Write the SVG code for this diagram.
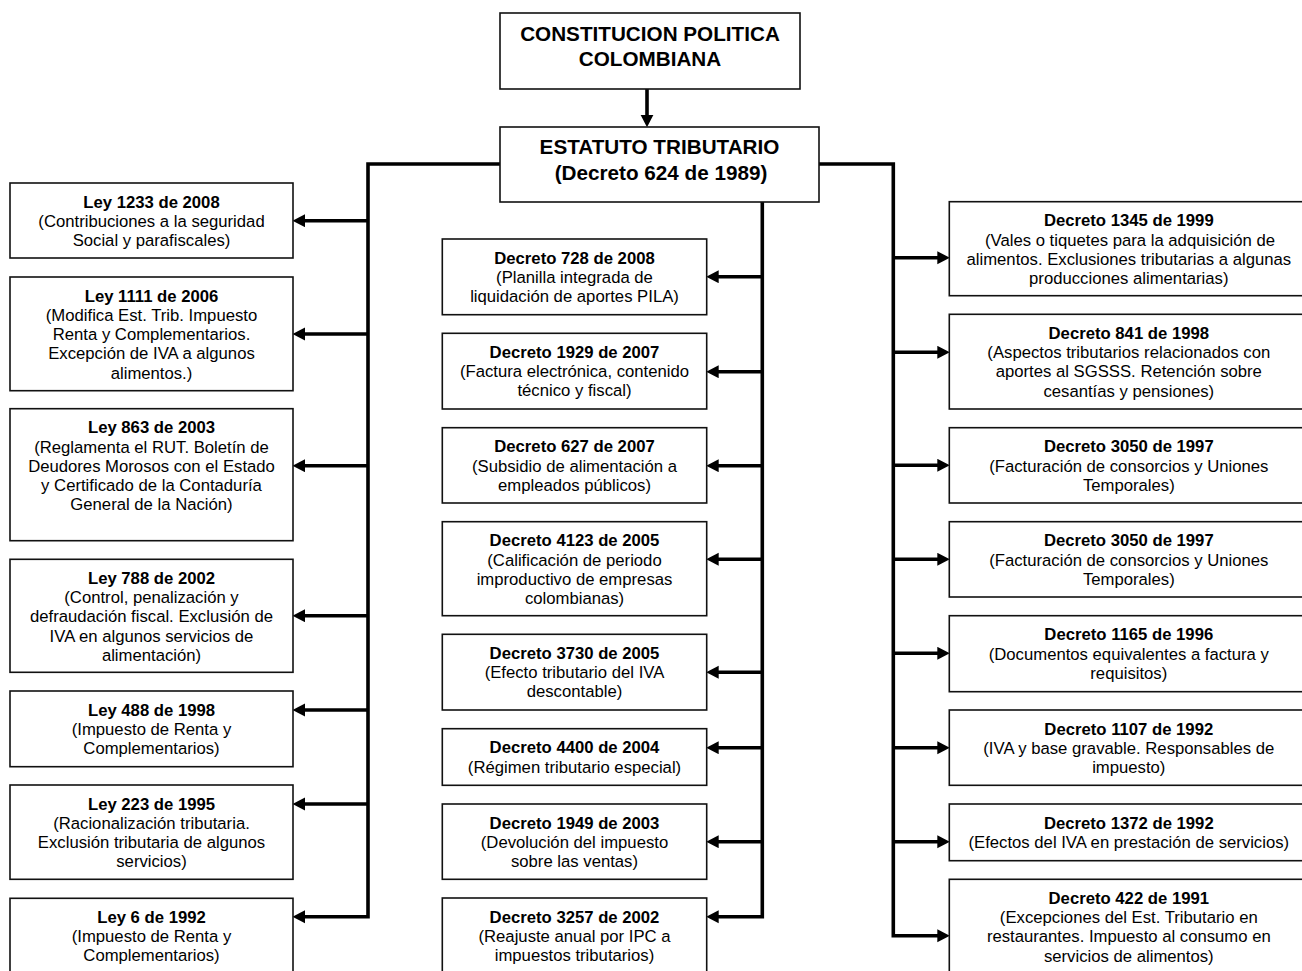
<svg xmlns="http://www.w3.org/2000/svg" width="1302" height="971" viewBox="0 0 1302 971">
<style>
.box{fill:#fff;stroke:#111;stroke-width:1.6}
.t{font-family:"Liberation Sans",Arial,sans-serif;font-size:16.7px;fill:#000;text-anchor:middle}
.b{font-weight:bold}
.h{font-family:"Liberation Sans",Arial,sans-serif;font-size:20.7px;font-weight:bold;fill:#000;text-anchor:middle}
.c{fill:none;stroke:#000;stroke-width:3.6;stroke-linejoin:miter}
.a{fill:none;stroke:#000;stroke-width:3.6;marker-end:url(#ah)}
</style>
<defs>
<marker id="ah" markerUnits="userSpaceOnUse" markerWidth="14" markerHeight="14" refX="2" refY="6.5" orient="auto">
<path d="M0,0 L12.5,6.5 L0,13 z" fill="#000"/>
</marker>
</defs>
<rect width="1302" height="971" fill="#fff"/>

<g id="connectors">
<line class="a" x1="647" y1="89" x2="647" y2="116.7"/>
<path class="c" d="M500,164 H368 V916.7 H303"/>
<path class="c" d="M762.3,202 V916.7 H716.7"/>
<path class="c" d="M819,164 H893.3 V935.7 H939.3"/>
<path d="M305,910.2 L292.5,916.7 L305,923.2 z" fill="#000"/>
<path d="M718.7,910.2 L706.2,916.7 L718.7,923.2 z" fill="#000"/>
<path d="M937.3,929.2 L949.8,935.7 L937.3,942.2 z" fill="#000"/>
<line class="a" x1="368" y1="220.7" x2="303" y2="220.7"/>
<line class="a" x1="368" y1="334" x2="303" y2="334"/>
<line class="a" x1="368" y1="465.7" x2="303" y2="465.7"/>
<line class="a" x1="368" y1="615.7" x2="303" y2="615.7"/>
<line class="a" x1="368" y1="710" x2="303" y2="710"/>
<line class="a" x1="368" y1="804" x2="303" y2="804"/>
<line class="a" x1="762.3" y1="276.7" x2="716.7" y2="276.7"/>
<line class="a" x1="762.3" y1="371.7" x2="716.7" y2="371.7"/>
<line class="a" x1="762.3" y1="465.7" x2="716.7" y2="465.7"/>
<line class="a" x1="762.3" y1="559.3" x2="716.7" y2="559.3"/>
<line class="a" x1="762.3" y1="672.3" x2="716.7" y2="672.3"/>
<line class="a" x1="762.3" y1="747.7" x2="716.7" y2="747.7"/>
<line class="a" x1="762.3" y1="841.7" x2="716.7" y2="841.7"/>
<line class="a" x1="893.3" y1="257.7" x2="939.3" y2="257.7"/>
<line class="a" x1="893.3" y1="352.3" x2="939.3" y2="352.3"/>
<line class="a" x1="893.3" y1="465.3" x2="939.3" y2="465.3"/>
<line class="a" x1="893.3" y1="559.3" x2="939.3" y2="559.3"/>
<line class="a" x1="893.3" y1="653.3" x2="939.3" y2="653.3"/>
<line class="a" x1="893.3" y1="747.7" x2="939.3" y2="747.7"/>
<line class="a" x1="893.3" y1="841.7" x2="939.3" y2="841.7"/>
</g>

<g id="constitucion">
<rect class="box" x="500" y="13" width="300" height="76"/>
<text class="h" x="650" y="40.7">CONSTITUCION POLITICA</text>
<text class="h" x="650" y="66.3">COLOMBIANA</text>
</g>
<g id="estatuto">
<rect class="box" x="500" y="127" width="319" height="75"/>
<text class="h" x="659.5" y="154">ESTATUTO TRIBUTARIO</text>
<text class="h" x="661" y="179.5">(Decreto 624 de 1989)</text>
</g>

<g id="ley1233">
<rect class="box" x="10" y="183" width="283" height="75"/>
<text class="t" x="151.5" y="207.5"><tspan class="b">Ley 1233 de 2008</tspan><tspan x="151.5" dy="19.3">(Contribuciones a la seguridad</tspan><tspan x="151.5" dy="19.3">Social y parafiscales)</tspan></text>
</g>
<g id="ley1111">
<rect class="box" x="10" y="277" width="283" height="113.7"/>
<text class="t" x="151.5" y="301.5"><tspan class="b">Ley 1111 de 2006</tspan><tspan x="151.5" dy="19.3">(Modifica Est. Trib. Impuesto</tspan><tspan x="151.5" dy="19.3">Renta y Complementarios.</tspan><tspan x="151.5" dy="19.3">Excepción de IVA a algunos</tspan><tspan x="151.5" dy="19.3">alimentos.)</tspan></text>
</g>
<g id="ley863">
<rect class="box" x="10" y="408.7" width="283" height="132"/>
<text class="t" x="151.5" y="433.2"><tspan class="b">Ley 863 de 2003</tspan><tspan x="151.5" dy="19.3">(Reglamenta el RUT. Boletín de</tspan><tspan x="151.5" dy="19.3">Deudores Morosos con el Estado</tspan><tspan x="151.5" dy="19.3">y Certificado de la Contaduría</tspan><tspan x="151.5" dy="19.3">General de la Nación)</tspan></text>
</g>
<g id="ley788">
<rect class="box" x="10" y="559.3" width="283" height="113"/>
<text class="t" x="151.5" y="583.8"><tspan class="b">Ley 788 de 2002</tspan><tspan x="151.5" dy="19.3">(Control, penalización y</tspan><tspan x="151.5" dy="19.3">defraudación fiscal. Exclusión de</tspan><tspan x="151.5" dy="19.3">IVA en algunos servicios de</tspan><tspan x="151.5" dy="19.3">alimentación)</tspan></text>
</g>
<g id="ley488">
<rect class="box" x="10" y="691" width="283" height="75.7"/>
<text class="t" x="151.5" y="715.5"><tspan class="b">Ley 488 de 1998</tspan><tspan x="151.5" dy="19.3">(Impuesto de Renta y</tspan><tspan x="151.5" dy="19.3">Complementarios)</tspan></text>
</g>
<g id="ley223">
<rect class="box" x="10" y="785" width="283" height="94.3"/>
<text class="t" x="151.5" y="809.5"><tspan class="b">Ley 223 de 1995</tspan><tspan x="151.5" dy="19.3">(Racionalización tributaria.</tspan><tspan x="151.5" dy="19.3">Exclusión tributaria de algunos</tspan><tspan x="151.5" dy="19.3">servicios)</tspan></text>
</g>
<g id="ley6">
<rect class="box" x="10" y="898.3" width="283" height="85"/>
<text class="t" x="151.5" y="922.8"><tspan class="b">Ley 6 de 1992</tspan><tspan x="151.5" dy="19.3">(Impuesto de Renta y</tspan><tspan x="151.5" dy="19.3">Complementarios)</tspan></text>
</g>

<g id="dec728">
<rect class="box" x="442.3" y="239" width="264.4" height="75.7"/>
<text class="t" x="574.5" y="263.5"><tspan class="b">Decreto 728 de 2008</tspan><tspan x="574.5" dy="19.3">(Planilla integrada de</tspan><tspan x="574.5" dy="19.3">liquidación de aportes PILA)</tspan></text>
</g>
<g id="dec1929">
<rect class="box" x="442.3" y="333.3" width="264.4" height="75.7"/>
<text class="t" x="574.5" y="357.8"><tspan class="b">Decreto 1929 de 2007</tspan><tspan x="574.5" dy="19.3">(Factura electrónica, contenido</tspan><tspan x="574.5" dy="19.3">técnico y fiscal)</tspan></text>
</g>
<g id="dec627">
<rect class="box" x="442.3" y="427.7" width="264.4" height="75.3"/>
<text class="t" x="574.5" y="452.2"><tspan class="b">Decreto 627 de 2007</tspan><tspan x="574.5" dy="19.3">(Subsidio de alimentación a</tspan><tspan x="574.5" dy="19.3">empleados públicos)</tspan></text>
</g>
<g id="dec4123">
<rect class="box" x="442.3" y="521.7" width="264.4" height="94"/>
<text class="t" x="574.5" y="546.2"><tspan class="b">Decreto 4123 de 2005</tspan><tspan x="574.5" dy="19.3">(Calificación de periodo</tspan><tspan x="574.5" dy="19.3">improductivo de empresas</tspan><tspan x="574.5" dy="19.3">colombianas)</tspan></text>
</g>
<g id="dec3730">
<rect class="box" x="442.3" y="634.3" width="264.4" height="75.7"/>
<text class="t" x="574.5" y="658.8"><tspan class="b">Decreto 3730 de 2005</tspan><tspan x="574.5" dy="19.3">(Efecto tributario del IVA</tspan><tspan x="574.5" dy="19.3">descontable)</tspan></text>
</g>
<g id="dec4400">
<rect class="box" x="442.3" y="728.7" width="264.4" height="56.6"/>
<text class="t" x="574.5" y="753.2"><tspan class="b">Decreto 4400 de 2004</tspan><tspan x="574.5" dy="19.3">(Régimen tributario especial)</tspan></text>
</g>
<g id="dec1949">
<rect class="box" x="442.3" y="804" width="264.4" height="75.3"/>
<text class="t" x="574.5" y="828.5"><tspan class="b">Decreto 1949 de 2003</tspan><tspan x="574.5" dy="19.3">(Devolución del impuesto</tspan><tspan x="574.5" dy="19.3">sobre las ventas)</tspan></text>
</g>
<g id="dec3257">
<rect class="box" x="442.3" y="898" width="264.4" height="85"/>
<text class="t" x="574.5" y="922.5"><tspan class="b">Decreto 3257 de 2002</tspan><tspan x="574.5" dy="19.3">(Reajuste anual por IPC a</tspan><tspan x="574.5" dy="19.3">impuestos tributarios)</tspan></text>
</g>

<g id="dec1345">
<rect class="box" x="949.3" y="201.7" width="359" height="94"/>
<text class="t" x="1128.8" y="226.2"><tspan class="b">Decreto 1345 de 1999</tspan><tspan x="1130" dy="19.3">(Vales o tiquetes para la adquisición de</tspan><tspan x="1128.8" dy="19.3">alimentos. Exclusiones tributarias a algunas</tspan><tspan x="1128.8" dy="19.3">producciones alimentarias)</tspan></text>
</g>
<g id="dec841">
<rect class="box" x="949.3" y="314.3" width="359" height="94.7"/>
<text class="t" x="1128.8" y="338.8"><tspan class="b">Decreto 841 de 1998</tspan><tspan x="1128.8" dy="19.3">(Aspectos tributarios relacionados con</tspan><tspan x="1128.8" dy="19.3">aportes al SGSSS. Retención sobre</tspan><tspan x="1128.8" dy="19.3">cesantías y pensiones)</tspan></text>
</g>
<g id="dec3050a">
<rect class="box" x="949.3" y="427.7" width="359" height="75.3"/>
<text class="t" x="1128.8" y="452.2"><tspan class="b">Decreto 3050 de 1997</tspan><tspan x="1128.8" dy="19.3">(Facturación de consorcios y Uniones</tspan><tspan x="1128.8" dy="19.3">Temporales)</tspan></text>
</g>
<g id="dec3050b">
<rect class="box" x="949.3" y="521.7" width="359" height="75.3"/>
<text class="t" x="1128.8" y="546.2"><tspan class="b">Decreto 3050 de 1997</tspan><tspan x="1128.8" dy="19.3">(Facturación de consorcios y Uniones</tspan><tspan x="1128.8" dy="19.3">Temporales)</tspan></text>
</g>
<g id="dec1165">
<rect class="box" x="949.3" y="615.7" width="359" height="76"/>
<text class="t" x="1128.8" y="640.2"><tspan class="b">Decreto 1165 de 1996</tspan><tspan x="1128.8" dy="19.3">(Documentos equivalentes a factura y</tspan><tspan x="1128.8" dy="19.3">requisitos)</tspan></text>
</g>
<g id="dec1107">
<rect class="box" x="949.3" y="710" width="359" height="75.3"/>
<text class="t" x="1128.8" y="734.5"><tspan class="b">Decreto 1107 de 1992</tspan><tspan x="1128.8" dy="19.3">(IVA y base gravable. Responsables de</tspan><tspan x="1128.8" dy="19.3">impuesto)</tspan></text>
</g>
<g id="dec1372">
<rect class="box" x="949.3" y="804" width="359" height="56.7"/>
<text class="t" x="1128.8" y="828.5"><tspan class="b">Decreto 1372 de 1992</tspan><tspan x="1128.8" dy="19.3">(Efectos del IVA en prestación de servicios)</tspan></text>
</g>
<g id="dec422">
<rect class="box" x="949.3" y="879.3" width="359" height="100"/>
<text class="t" x="1128.8" y="903.8"><tspan class="b">Decreto 422 de 1991</tspan><tspan x="1128.8" dy="19.3">(Excepciones del Est. Tributario en</tspan><tspan x="1128.8" dy="19.3">restaurantes. Impuesto al consumo en</tspan><tspan x="1128.8" dy="19.3">servicios de alimentos)</tspan></text>
</g>
</svg>
